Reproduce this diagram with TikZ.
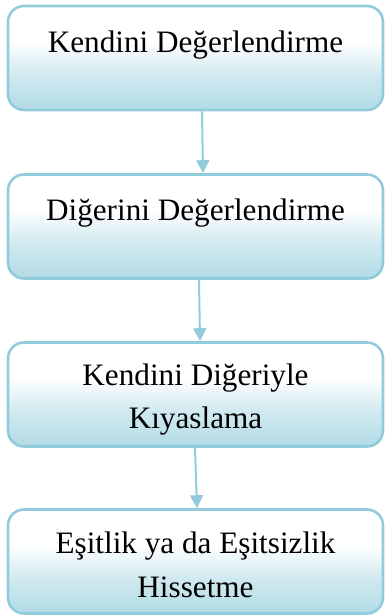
\documentclass[tikz,border=0pt]{standalone}
\usepackage{fontspec}
\setmainfont{Liberation Serif}
\usetikzlibrary{arrows.meta}
\definecolor{edgeblue}{RGB}{146,204,220}
\definecolor{fillblue}{RGB}{178,219,230}
% white upper part fading into light blue towards the bottom edge
\pgfdeclareverticalshading{boxfade}{100bp}{%
  color(0bp)=(fillblue); color(25bp)=(fillblue);
  color(42bp)=(fillblue!60!white); color(58bp)=(white); color(100bp)=(white)}
\tikzset{
  stepbox/.style={draw=edgeblue, line width=2.6pt, rounded corners=16pt,
    shading=boxfade,
    minimum width=375pt, minimum height=104pt, inner sep=0pt},
  lbl/.style={font=\fontsize{31.2pt}{43.5pt}\selectfont, inner sep=0pt, align=center, anchor=base},
  flow/.style={draw=edgeblue, line width=2pt, -{Triangle[width=13pt,length=13pt]}},
}
\begin{document}
\begin{tikzpicture}[x=1pt,y=-1pt]
  \useasboundingbox (0,0) rectangle (385,616);
  % four stages, top to bottom
  \node[stepbox] (b1) at (195.5,58) {};
  \node[stepbox] (b2) at (195.5,226.5) {};
  \node[stepbox] (b3) at (195.5,394.5) {};
  \node[stepbox] (b4) at (195.5,561.5) {};
  % captions (base anchor of a two-line node sits on its last line)
  \node[lbl] (t1) at (195.5,52) {Kendini Değerlendirme};
  \node[lbl] (t2) at (195.5,220) {Diğerini Değerlendirme};
  \node[lbl] (t3) at (195.5,428.5) {Kendini Diğeriyle\\Kıyaslama};
  \node[lbl] (t4) at (195.5,597) {Eşitlik ya da Eşitsizlik\\Hissetme};
  % connectors
  \draw[flow] ([xshift=6.5pt]b1.south) -- ([xshift=7.5pt]b2.north);
  \draw[flow] ([xshift=3.5pt]b2.south) -- ([xshift=4.5pt]b3.north);
  \draw[flow] ([xshift=-0.5pt]b3.south) -- ([xshift=1.5pt]b4.north);
\end{tikzpicture}
\end{document}
